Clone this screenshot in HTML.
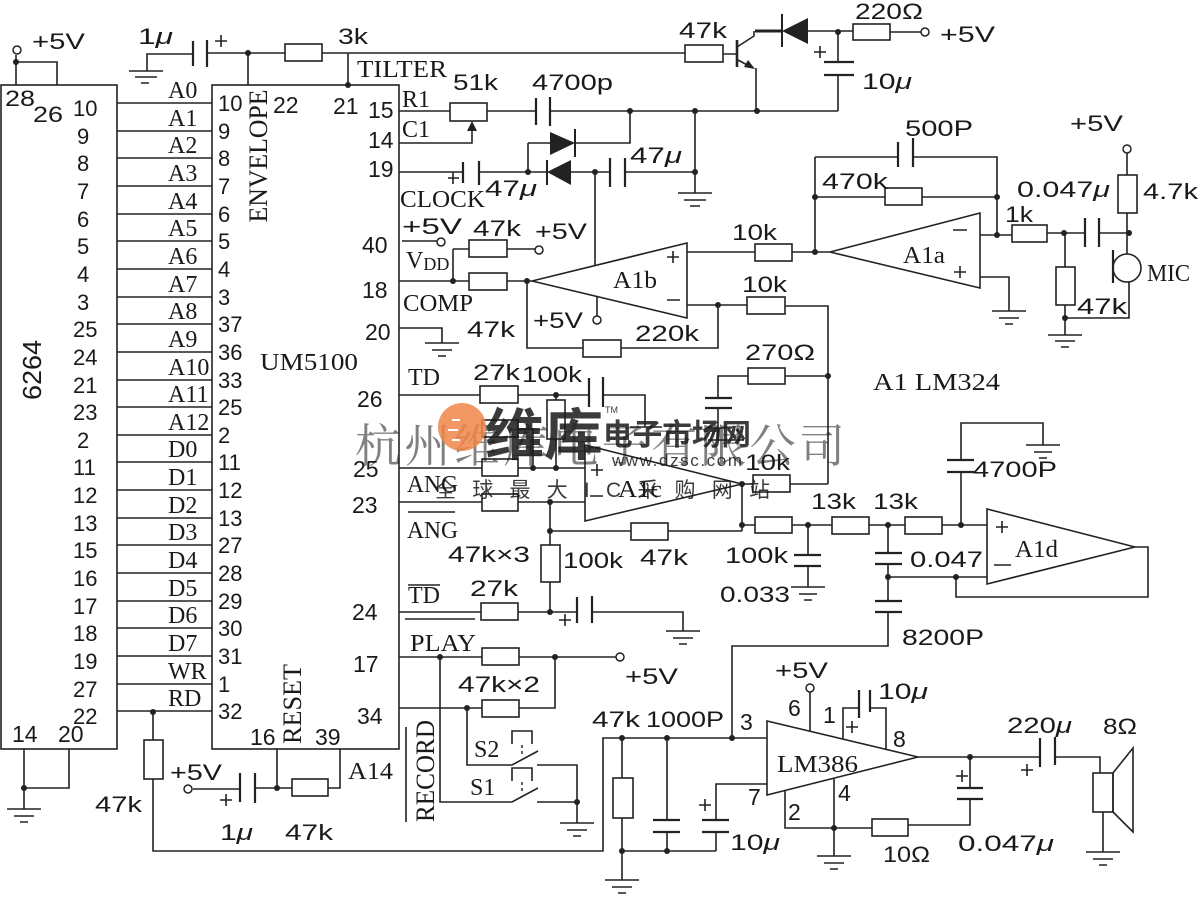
<!DOCTYPE html>
<html><head><meta charset="utf-8">
<style>
html,body{margin:0;padding:0;background:#fff;}
svg{display:block}
.w{fill:none;stroke:#222;stroke-width:1.6}
.p{fill:none;stroke:#222;stroke-width:2.2}
.rs{fill:#fff;stroke:#222;stroke-width:1.6}
.d{fill:#222}
text{fill:#1a1a1a}
.s{font-family:"Liberation Sans",sans-serif;font-size:22px}
.r{font-family:"Liberation Serif",serif;font-size:24px}
</style></head><body>
<svg width="1200" height="908" viewBox="0 0 1200 908" xmlns="http://www.w3.org/2000/svg">
<rect width="1200" height="908" fill="#fff"/>

<!-- chips -->
<rect x="1" y="85" width="116" height="664" class="w"/>
<rect x="212" y="85" width="187" height="664" class="w"/>

<!-- bus lines -->
<path class="w" d="M117,103H212M117,131H212M117,158H212M117,186H212M117,214H212M117,241H212M117,269H212M117,297H212M117,324H212M117,352H212M117,380H212M117,407H212M117,435H212M117,462H212M117,490H212M117,518H212M117,545H212M117,573H212M117,601H212M117,628H212M117,656H212M117,684H212M117,711H212"/>

<!-- bus labels -->
<g class="r">
<text x="168" y="98">A0</text><text x="168" y="126">A1</text><text x="168" y="153">A2</text><text x="168" y="181">A3</text>
<text x="168" y="209">A4</text><text x="168" y="236">A5</text><text x="168" y="264">A6</text><text x="168" y="292">A7</text>
<text x="168" y="319">A8</text><text x="168" y="347">A9</text><text x="168" y="375">A10</text><text x="168" y="402">A11</text>
<text x="168" y="430">A12</text><text x="168" y="457">D0</text><text x="168" y="485">D1</text><text x="168" y="513">D2</text>
<text x="168" y="540">D3</text><text x="168" y="568">D4</text><text x="168" y="596">D5</text><text x="168" y="623">D6</text>
<text x="168" y="651">D7</text><text x="168" y="679">WR</text><text x="168" y="706">RD</text>
</g>
<!-- 6264 pin numbers -->
<g class="s" font-size="23">
<text x="73" y="116">10</text><text x="77" y="144">9</text><text x="77" y="171">8</text><text x="77" y="199">7</text>
<text x="77" y="227">6</text><text x="77" y="254">5</text><text x="77" y="282">4</text><text x="77" y="310">3</text>
<text x="73" y="337">25</text><text x="73" y="365">24</text><text x="73" y="393">21</text><text x="73" y="420">23</text>
<text x="77" y="448">2</text><text x="73" y="475">11</text><text x="73" y="503">12</text><text x="73" y="531">13</text>
<text x="73" y="558">15</text><text x="73" y="586">16</text><text x="73" y="614">17</text><text x="73" y="641">18</text>
<text x="73" y="669">19</text><text x="73" y="697">27</text><text x="73" y="724">22</text>
</g>
<!-- UM5100 left pin numbers -->
<g class="s" font-size="23">
<text x="218" y="111">10</text><text x="218" y="139">9</text><text x="218" y="166">8</text><text x="218" y="194">7</text>
<text x="218" y="222">6</text><text x="218" y="249">5</text><text x="218" y="277">4</text><text x="218" y="305">3</text>
<text x="218" y="332">37</text><text x="218" y="360">36</text><text x="218" y="388">33</text><text x="218" y="415">25</text>
<text x="218" y="443">2</text><text x="218" y="470">11</text><text x="218" y="498">12</text><text x="218" y="526">13</text>
<text x="218" y="553">27</text><text x="218" y="581">28</text><text x="218" y="609">29</text><text x="218" y="636">30</text>
<text x="218" y="664">31</text><text x="218" y="692">1</text><text x="218" y="719">32</text>
</g>

<!-- wires -->
<path class="w" d="
M16,55V85M16,62H57V85
M147,71V54H193M207,53H285M322,53H685M248,53V85M348,53V85
M723,54H737M737,47L754,36V31M738,60L751,67M756,68V111
M808,31H853M838,31V62M838,75V111M890,32H921
M399,111H450M487,111H536M550,111H838
M630,111V143H575M528,143H550M528,143V172
M399,143H472V128
M399,172H463M479,172H547M571,172H610M625,172H695M695,111V193M595,172V266
M402,241H437
M453,249V281M453,249H469M507,249H535
M399,281H469M507,281H532
M687,252H755M792,252H830
M687,305H747M785,306H828V484
M718,305V348H621M583,348H527V281
M597,297V316
M399,328H442V343
M785,376H828M748,376H718V398M718,408V440M708,428H732M708,440H744
M399,395H480M518,395H589M603,395H645V427M630,427H662
M556,395V400M556,439V468
M518,429H533V468
M399,468H482M518,468H585
M399,502H482M518,502H585
M742,484H753M790,484H828
M742,484V531M550,502V545M550,582V612M550,531H631M668,531H742
M742,525H755M792,525H832M869,525H905M942,525H987
M1135,547H1148V597H956V577M888,577H987
M961,525V472M961,460V423H1043V445
M808,525V555M808,566V587
M888,525V553M888,564V601M888,612V646H732V738
M399,612H481M518,612H577M592,612H683V631
M405,619H475
M399,657H482M518,657H616
M399,708H482M518,708H555V657
M467,708V765H512L538,751M537,765H577V823
M440,657V802H512L538,788M537,802H577
M406,727V822
M24,749V809M24,788H69V749
M153,712V740M153,779V851H603V738H767
M622,738V778M622,818V880M622,851H716
M667,738V820M667,832V851
M767,784H716V820M716,832V851
M810,692V731
M843,739V708H859M870,708H886V749
M918,757H1040M1055,757H1100V773M1103,812V852
M970,757V788M970,799V825H908M872,828H785V791M834,779V856
M277,749V788M340,749V788H328M292,788H255M240,789H193
M815,157H898M913,157H997V235M815,157V252M815,197H885M922,197H997
M980,235H1012M1047,233H1085M1099,233H1129
M980,277H1009V311
M1065,233V267M1065,305V335M1065,318H1129V282
M1127,153V175M1127,213V254
"/>
<path d="M755,31H782" stroke="#222" stroke-width="3"/>
<path d="M737,40V67" stroke="#222" stroke-width="2.6"/>
<polygon points="755,69 744,67 748,60" class="d"/>

<!-- capacitor plates -->
<path class="p" d="
M193,41V66M207,40V67
M824,62H854M824,75H854
M536,98V125M550,97V126
M463,162V183M479,161V185
M610,158V187M625,158V187
M705,398H732M705,408H732
M589,378V407M603,377V407
M947,472H974M947,460H974
M794,555H821M794,566H821
M875,553H902M875,564H902M875,601H902M875,612H902
M577,597V623M592,596V623
M653,820H680M653,832H680
M702,820H729M702,832H729
M859,690V718M870,690V712
M1040,738V767M1055,737V765
M957,788H983M957,799H983
M240,773V802M255,773V803
M898,142V167M913,138V167
M1085,218V247M1099,218V247
M1113,250V283
"/>

<!-- diodes -->
<polygon points="782,31 808,18 808,44" class="d"/><path d="M782,14V47" stroke="#222" stroke-width="2"/>
<polygon points="550,132 550,155 575,143" class="d"/><path d="M575,129V157" stroke="#222" stroke-width="2"/>
<polygon points="547,172 571,160 571,185" class="d"/><path d="M547,160V185" stroke="#222" stroke-width="2"/>
<polygon points="472,121 467,131 477,131" class="d"/>

<!-- resistors -->
<g class="rs">
<rect x="285" y="44" width="37" height="17"/>
<rect x="685" y="45" width="38" height="17"/>
<rect x="853" y="24" width="37" height="16"/>
<rect x="450" y="103" width="37" height="18"/>
<rect x="469" y="240" width="38" height="17"/>
<rect x="469" y="273" width="38" height="17"/>
<rect x="755" y="244" width="37" height="17"/>
<rect x="747" y="297" width="38" height="17"/>
<rect x="583" y="340" width="38" height="17"/>
<rect x="748" y="368" width="37" height="16"/>
<rect x="480" y="386" width="38" height="17"/>
<rect x="547" y="400" width="18" height="39"/>
<rect x="482" y="420" width="36" height="17"/>
<rect x="482" y="459" width="36" height="17"/>
<rect x="482" y="494" width="36" height="17"/>
<rect x="753" y="475" width="37" height="17"/>
<rect x="541" y="545" width="19" height="37"/>
<rect x="631" y="523" width="37" height="17"/>
<rect x="755" y="517" width="37" height="16"/>
<rect x="832" y="517" width="37" height="17"/>
<rect x="905" y="517" width="37" height="17"/>
<rect x="481" y="603" width="37" height="17"/>
<rect x="482" y="648" width="37" height="17"/>
<rect x="482" y="700" width="37" height="17"/>
<rect x="144" y="740" width="19" height="39"/>
<rect x="292" y="779" width="36" height="17"/>
<rect x="613" y="778" width="20" height="40"/>
<rect x="872" y="819" width="36" height="17"/>
<rect x="1093" y="773" width="20" height="39"/>
<rect x="885" y="188" width="37" height="17"/>
<rect x="1012" y="225" width="35" height="17"/>
<rect x="1056" y="267" width="19" height="38"/>
<rect x="1118" y="175" width="19" height="38"/>
</g>

<!-- op amps -->
<g class="w">
<polygon points="532,281 687,243 687,318"/>
<polygon points="830,252 980,213 980,288"/>
<polygon points="585,445 585,521 742,484"/>
<polygon points="987,509 987,584 1135,547"/>
<polygon points="767,721 767,795 918,757"/>
<polygon points="1113,773 1133,748 1133,832 1113,812"/>
<circle cx="1127" cy="268" r="14"/>
</g>
<!-- plus/minus signs -->
<path class="w" d="
M667,257H679M673,251V263M667,300H680
M953,230H967M954,272H966M960,266V278
M591,470H603M597,464V476M590,496H603
M996,527H1008M1002,521V533M994,565H1011
M215,41H227M221,35V47
M814,52H826M820,46V58
M448,178H459M453,172V184
M559,620H571M565,614V626
M699,805H711M705,799V811
M846,727H858M852,721V733
M1021,770H1033M1027,764V776
M956,776H968M962,770V782
M220,800H232M226,794V806
"/>

<!-- grounds -->
<path class="w" d="
M129,71H163M135,77H157M141,83H149
M678,193H712M684,200H706M690,206H700
M425,343H459M432,350H452M438,356H446
M666,631H700M673,638H693M679,644H687
M560,823H594M567,830H587M573,836H581
M7,809H41M14,816H34M20,822H28
M605,880H639M612,887H632M618,893H626
M817,856H851M824,863H844M830,869H838
M1086,852H1120M1093,859H1113M1099,865H1107
M791,587H825M799,594H817M804,600H812
M1026,445H1060M1034,452H1052M1039,458H1047
M992,311H1026M999,318H1019M1005,324H1013
M1048,335H1082M1055,341H1075M1061,347H1069
"/>
<!-- push switch caps -->
<path class="w" d="M512,744V731H532V744M512,781V768H532V781"/>
<path d="M522,745V757M522,782V794" stroke="#222" stroke-width="1.4" stroke-dasharray="3,3"/>

<!-- dots -->
<g class="d">
<circle cx="16" cy="62" r="3"/><circle cx="248" cy="53" r="3"/><circle cx="348" cy="85" r="3"/>
<circle cx="757" cy="111" r="3"/><circle cx="838" cy="32" r="3"/><circle cx="630" cy="111" r="3"/><circle cx="695" cy="111" r="3"/>
<circle cx="528" cy="172" r="3"/><circle cx="595" cy="172" r="3"/><circle cx="695" cy="172" r="3"/>
<circle cx="453" cy="281" r="3"/><circle cx="527" cy="281" r="3"/><circle cx="718" cy="305" r="3"/>
<circle cx="828" cy="376" r="3"/><circle cx="556" cy="395" r="3"/><circle cx="533" cy="468" r="3"/><circle cx="556" cy="468" r="3"/>
<circle cx="550" cy="502" r="3"/><circle cx="742" cy="484" r="3"/><circle cx="550" cy="531" r="3"/><circle cx="742" cy="525" r="3"/>
<circle cx="808" cy="525" r="3"/><circle cx="888" cy="525" r="3"/><circle cx="961" cy="525" r="3"/>
<circle cx="888" cy="577" r="3"/><circle cx="956" cy="577" r="3"/><circle cx="550" cy="612" r="3"/>
<circle cx="440" cy="657" r="3"/><circle cx="555" cy="657" r="3"/><circle cx="467" cy="708" r="3"/><circle cx="577" cy="802" r="3"/>
<circle cx="24" cy="788" r="3"/><circle cx="153" cy="712" r="3"/><circle cx="277" cy="788" r="3"/>
<circle cx="622" cy="738" r="3"/><circle cx="667" cy="738" r="3"/><circle cx="732" cy="738" r="3"/>
<circle cx="622" cy="851" r="3"/><circle cx="667" cy="851" r="3"/>
<circle cx="970" cy="757" r="3"/><circle cx="834" cy="828" r="3"/>
<circle cx="815" cy="197" r="3"/><circle cx="997" cy="197" r="3"/><circle cx="815" cy="252" r="3"/>
<circle cx="997" cy="235" r="3"/><circle cx="1064" cy="233" r="3"/><circle cx="1129" cy="233" r="3"/><circle cx="1065" cy="318" r="3"/>
</g>
<!-- terminals -->
<g fill="#fff" stroke="#222" stroke-width="1.5">
<circle cx="17" cy="50" r="4"/><circle cx="925" cy="32" r="4"/><circle cx="441" cy="242" r="4"/><circle cx="539" cy="250" r="4"/>
<circle cx="597" cy="320" r="4"/><circle cx="620" cy="657" r="4"/><circle cx="810" cy="688" r="4"/><circle cx="188" cy="789" r="4"/>
<circle cx="1127" cy="149" r="4"/>
</g>

<!-- sans labels -->
<g class="s">
<text x="32" y="49" textLength="53" lengthAdjust="spacingAndGlyphs">+5V</text>
<text x="5" y="106" textLength="30" lengthAdjust="spacingAndGlyphs">28</text><text x="33" y="122" textLength="30" lengthAdjust="spacingAndGlyphs">26</text>
<text x="138" y="44" textLength="35" lengthAdjust="spacingAndGlyphs">1<tspan font-style="italic">μ</tspan></text>
<text x="338" y="44" textLength="30" lengthAdjust="spacingAndGlyphs">3k</text>
<text x="679" y="38" textLength="48" lengthAdjust="spacingAndGlyphs">47k</text>
<text x="855" y="19" textLength="68" lengthAdjust="spacingAndGlyphs">220Ω</text>
<text x="940" y="42" textLength="55" lengthAdjust="spacingAndGlyphs">+5V</text>
<text x="862" y="89" textLength="50" lengthAdjust="spacingAndGlyphs">10<tspan font-style="italic">μ</tspan></text>
<text x="453" y="90" textLength="45" lengthAdjust="spacingAndGlyphs">51k</text>
<text x="532" y="90" textLength="81" lengthAdjust="spacingAndGlyphs">4700p</text>
<text x="630" y="163" textLength="52" lengthAdjust="spacingAndGlyphs">47<tspan font-style="italic">μ</tspan></text>
<text x="485" y="196" textLength="52" lengthAdjust="spacingAndGlyphs">47<tspan font-style="italic">μ</tspan></text>
<g font-size="23">
<text x="368" y="118">15</text><text x="368" y="148">14</text><text x="368" y="177">19</text>
<text x="362" y="253">40</text><text x="362" y="298">18</text><text x="365" y="340">20</text>
<text x="357" y="407">26</text><text x="353" y="477">25</text><text x="352" y="513">23</text>
<text x="352" y="620">24</text><text x="353" y="672">17</text><text x="357" y="724">34</text>
<text x="273" y="113">22</text><text x="333" y="114">21</text>
<text x="250" y="745">16</text><text x="315" y="745">39</text>
<text x="12" y="742">14</text><text x="58" y="742">20</text>
</g>
<text x="402" y="234" textLength="60" lengthAdjust="spacingAndGlyphs">+5V</text>
<text x="473" y="236" textLength="48" lengthAdjust="spacingAndGlyphs">47k</text><text x="535" y="239" textLength="52" lengthAdjust="spacingAndGlyphs">+5V</text>
<text x="732" y="240" textLength="45" lengthAdjust="spacingAndGlyphs">10k</text><text x="742" y="292" textLength="45" lengthAdjust="spacingAndGlyphs">10k</text>
<text x="467" y="337" textLength="48" lengthAdjust="spacingAndGlyphs">47k</text><text x="533" y="328" textLength="50" lengthAdjust="spacingAndGlyphs">+5V</text><text x="635" y="341" textLength="64" lengthAdjust="spacingAndGlyphs">220k</text>
<text x="745" y="360" textLength="70" lengthAdjust="spacingAndGlyphs">270Ω</text>
<text x="473" y="380" textLength="47" lengthAdjust="spacingAndGlyphs">27k</text><text x="522" y="382" textLength="60" lengthAdjust="spacingAndGlyphs">100k</text>
<text x="745" y="470" textLength="45" lengthAdjust="spacingAndGlyphs">10k</text>
<text x="448" y="562" textLength="82" lengthAdjust="spacingAndGlyphs">47k×3</text><text x="563" y="568" textLength="60" lengthAdjust="spacingAndGlyphs">100k</text><text x="640" y="565" textLength="48" lengthAdjust="spacingAndGlyphs">47k</text>
<text x="470" y="596" textLength="48" lengthAdjust="spacingAndGlyphs">27k</text>
<text x="811" y="509" textLength="45" lengthAdjust="spacingAndGlyphs">13k</text><text x="873" y="509" textLength="45" lengthAdjust="spacingAndGlyphs">13k</text>
<text x="725" y="563" textLength="63" lengthAdjust="spacingAndGlyphs">100k</text><text x="720" y="602" textLength="70" lengthAdjust="spacingAndGlyphs">0.033</text>
<text x="910" y="567" textLength="73" lengthAdjust="spacingAndGlyphs">0.047</text><text x="973" y="477" textLength="84" lengthAdjust="spacingAndGlyphs">4700P</text><text x="902" y="645" textLength="82" lengthAdjust="spacingAndGlyphs">8200P</text>
<text x="625" y="684" textLength="53" lengthAdjust="spacingAndGlyphs">+5V</text><text x="458" y="692" textLength="82" lengthAdjust="spacingAndGlyphs">47k×2</text>
<text x="592" y="727" textLength="48" lengthAdjust="spacingAndGlyphs">47k</text><text x="646" y="727" textLength="78" lengthAdjust="spacingAndGlyphs">1000P</text><text x="740" y="730" font-size="23">3</text>
<text x="748" y="805" font-size="23">7</text><text x="730" y="850" textLength="50" lengthAdjust="spacingAndGlyphs">10<tspan font-style="italic">μ</tspan></text>
<text x="775" y="678" textLength="53" lengthAdjust="spacingAndGlyphs">+5V</text><text x="788" y="716" font-size="23">6</text><text x="823" y="723" font-size="23">1</text>
<text x="878" y="699" textLength="50" lengthAdjust="spacingAndGlyphs">10<tspan font-style="italic">μ</tspan></text><text x="893" y="747" font-size="23">8</text>
<text x="788" y="820" font-size="23">2</text><text x="838" y="801" font-size="23">4</text>
<text x="883" y="862" textLength="47" lengthAdjust="spacingAndGlyphs">10Ω</text>
<text x="958" y="851" textLength="96" lengthAdjust="spacingAndGlyphs">0.047<tspan font-style="italic">μ</tspan></text>
<text x="1007" y="733" textLength="65" lengthAdjust="spacingAndGlyphs">220<tspan font-style="italic">μ</tspan></text>
<text x="1103" y="734" textLength="34" lengthAdjust="spacingAndGlyphs">8Ω</text>
<text x="170" y="780" textLength="52" lengthAdjust="spacingAndGlyphs">+5V</text>
<text x="220" y="840" textLength="33" lengthAdjust="spacingAndGlyphs">1<tspan font-style="italic">μ</tspan></text>
<text x="285" y="840" textLength="48" lengthAdjust="spacingAndGlyphs">47k</text><text x="95" y="812" textLength="47" lengthAdjust="spacingAndGlyphs">47k</text>
<text x="905" y="136" textLength="68" lengthAdjust="spacingAndGlyphs">500P</text><text x="822" y="189" textLength="66" lengthAdjust="spacingAndGlyphs">470k</text>
<text x="1070" y="131" textLength="53" lengthAdjust="spacingAndGlyphs">+5V</text><text x="1143" y="199" textLength="55" lengthAdjust="spacingAndGlyphs">4.7k</text>
<text x="1017" y="197" textLength="93" lengthAdjust="spacingAndGlyphs">0.047<tspan font-style="italic">μ</tspan></text>
<text x="1005" y="222" textLength="28" lengthAdjust="spacingAndGlyphs">1k</text><text x="1077" y="314" textLength="50" lengthAdjust="spacingAndGlyphs">47k</text>
<text transform="rotate(-90 32 370)" x="32" y="379" text-anchor="middle" font-size="26" textLength="60" lengthAdjust="spacingAndGlyphs">6264</text>
</g>

<!-- serif labels -->
<g class="r">
<text x="357" y="77" textLength="90" lengthAdjust="spacingAndGlyphs">TILTER</text>
<text x="402" y="107">R1</text><text x="402" y="137">C1</text>
<text x="400" y="207" textLength="85" lengthAdjust="spacingAndGlyphs">CLOCK</text>
<text x="406" y="268">V<tspan font-size="18" dy="2">DD</tspan></text>
<text x="403" y="311" textLength="70" lengthAdjust="spacingAndGlyphs">COMP</text>
<text x="408" y="385">TD</text>
<text x="407" y="492" textLength="51" lengthAdjust="spacingAndGlyphs">ANG</text>
<text x="407" y="538" textLength="51" lengthAdjust="spacingAndGlyphs">ANG</text>
<text x="408" y="603">TD</text>
<text x="410" y="651" textLength="66" lengthAdjust="spacingAndGlyphs">PLAY</text>
<text x="474" y="757">S2</text><text x="470" y="795">S1</text>
<text x="613" y="288" textLength="44" lengthAdjust="spacingAndGlyphs">A1b</text>
<text x="618" y="497" textLength="44" lengthAdjust="spacingAndGlyphs">A1c</text>
<text x="903" y="263" textLength="42" lengthAdjust="spacingAndGlyphs">A1a</text>
<text x="1015" y="557" textLength="43" lengthAdjust="spacingAndGlyphs">A1d</text>
<text x="873" y="390" textLength="127" lengthAdjust="spacingAndGlyphs">A1  LM324</text>
<text x="260" y="370" textLength="98" lengthAdjust="spacingAndGlyphs">UM5100</text>
<text x="348" y="779" textLength="45" lengthAdjust="spacingAndGlyphs">A14</text>
<text x="777" y="772" textLength="81" lengthAdjust="spacingAndGlyphs">LM386</text>
<text x="1147" y="281" textLength="43" lengthAdjust="spacingAndGlyphs">MIC</text>
<text transform="rotate(-90 258 156)" x="258" y="165" text-anchor="middle" font-size="26" textLength="133" lengthAdjust="spacingAndGlyphs">ENVELOPE</text>
<text transform="rotate(-90 292 704)" x="292" y="713" text-anchor="middle" font-size="26" textLength="80" lengthAdjust="spacingAndGlyphs">RESET</text>
<text transform="rotate(-90 425 771)" x="425" y="780" text-anchor="middle" font-size="26" textLength="102" lengthAdjust="spacingAndGlyphs">RECORD</text>
</g>
<path class="w" d="M408,512H455M408,585H440"/>

<!-- watermark -->
<g opacity="0.55">
<text x="355" y="462" font-family="'Noto Serif CJK SC','Noto Sans CJK SC',serif" font-size="46" fill="#b8b8b8" textLength="490">杭州维库电子有限公司</text>
</g>
<g opacity="0.85">
<circle cx="462" cy="427" r="24" fill="#f0874a"/>
<path d="M452,420h8M448,430h10M452,440h8" stroke="#fff" stroke-width="2" fill="none"/>
<text x="485" y="455" font-family="'Noto Sans CJK SC',sans-serif" font-size="56" font-weight="bold" fill="#f0874a" textLength="118" lengthAdjust="spacingAndGlyphs">维库</text>
<text x="603" y="445" font-family="'Noto Sans CJK SC',sans-serif" font-size="30" font-weight="bold" fill="#f0874a" textLength="148" lengthAdjust="spacingAndGlyphs">电子市场网</text>
<text x="605" y="413" font-family="'Liberation Sans',sans-serif" font-size="9" fill="#f0874a">TM</text>
<text x="612" y="466" font-family="'Liberation Sans',sans-serif" font-size="17" fill="#f0a070" textLength="130">www.dzsc.com</text>
<text x="435" y="497" font-family="'Liberation Sans','Noto Sans CJK SC',sans-serif" font-size="21" fill="#f0874a" textLength="335">全 球 最 大 I C 采 购 网 站</text>
</g>
</svg>
</body></html>
